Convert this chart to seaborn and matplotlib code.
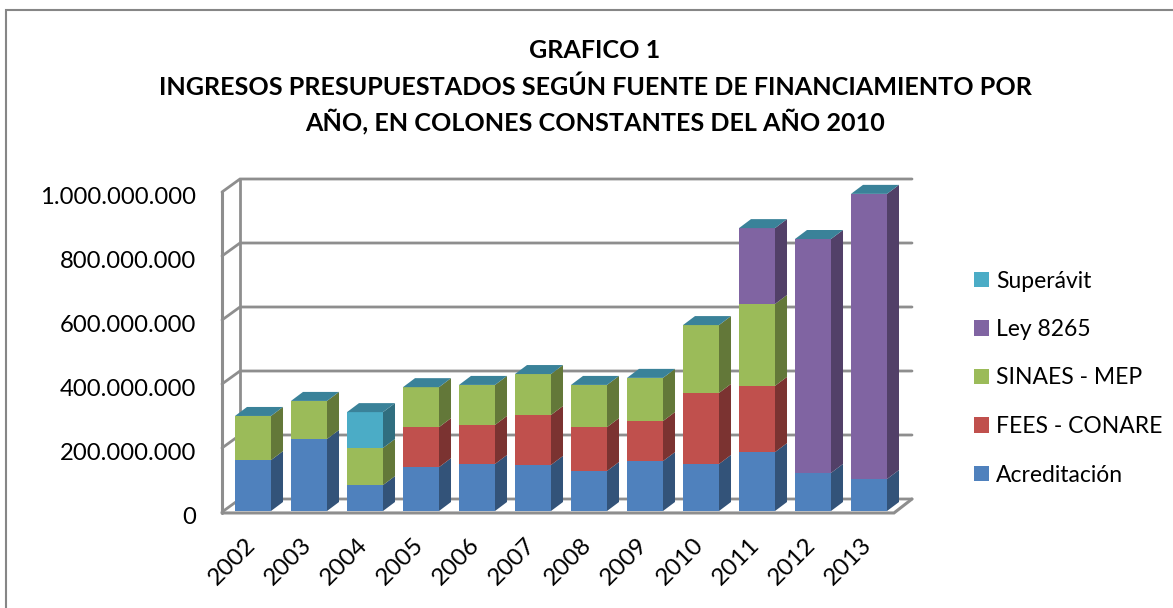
import matplotlib
matplotlib.use("Agg")
import matplotlib.pyplot as plt
from matplotlib.patches import Polygon
from matplotlib.lines import Line2D
from matplotlib.colors import to_rgb
from matplotlib.transforms import ScaledTranslation
import seaborn as sns

# Data (colones)
YEARS = ["2002", "2003", "2004", "2005", "2006", "2007", "2008", "2009", "2010", "2011", "2012", "2013"]
ACREDITACION = [159e6, 225e6, 81e6, 137e6, 147e6, 144e6, 125e6, 156e6, 147e6, 184e6, 119e6, 100e6]
FEES_CONARE = [0, 0, 0, 125e6, 122e6, 156e6, 137e6, 125e6, 222e6, 207e6, 0, 0]
SINAES_MEP = [138e6, 119e6, 116e6, 125e6, 125e6, 128e6, 132e6, 135e6, 212e6, 256e6, 0, 0]
LEY_8265 = [0, 0, 0, 0, 0, 0, 0, 0, 0, 237e6, 731e6, 891e6]
SUPERAVIT = [0, 0, 112e6, 0, 0, 0, 0, 0, 0, 0, 0, 0]
SERIES_NAMES = ["Acreditación", "FEES - CONARE", "SINAES - MEP", "Ley 8265", "Superávit"]
SERIES_COLORS = ["#4f81bd", "#c0504d", "#9bbb59", "#8064a2", "#4bacc6"]
Y_TICKS = [0, 200e6, 400e6, 600e6, 800e6, 1000e6]
Y_LABELS = ["0", "200.000.000", "400.000.000", "600.000.000", "800.000.000", "1.000.000.000"]
TITLE_LINES = ["GRAFICO 1",
               "INGRESOS PRESUPUESTADOS SEGÚN FUENTE DE FINANCIAMIENTO POR",
               "AÑO, EN COLONES CONSTANTES DEL AÑO 2010"]
TITLE_BASELINES = [58, 95, 130]

W, H = 1173, 608
GRID = "#8e8e8e"
TOP_COLOR = "#3a8299"

sns.set_theme(style="white")
plt.rcParams["font.family"] = ["Lato", "DejaVu Sans"]

fig = plt.figure(figsize=(W / 100, H / 100), dpi=100)
# front plane of the fake 3D box, in pixels
ax = fig.add_axes([222 / W, 1 - 512 / H, 672 / W, 320 / H])

series = [ACREDITACION, FEES_CONARE, SINAES_MEP, LEY_8265, SUPERAVIT]
bottoms = [0] * len(YEARS)
for name, values, color in zip(SERIES_NAMES, series, SERIES_COLORS):
    sns.barplot(x=YEARS, y=values, bottom=bottoms, color=color, width=0.643,
                saturation=1, label=name, ax=ax, zorder=3, linewidth=0)
    bottoms = [b + v for b, v in zip(bottoms, values)]

ax.set_xlim(-0.5, 11.5)
ax.set_ylim(0, 1e9)
sns.despine(ax=ax, left=True, bottom=True)

# pixel to data helpers
PX = 1 / 56
PY = 1e9 / 320


def shift(x, y, dx, dy):
    return x + dx * PX, y + dy * PY


# walls and gridlines
for tick in Y_TICKS:
    x0, y0 = shift(-0.5, tick, 18, 13)
    x1, y1 = shift(11.5, tick, 18, 13)
    ax.plot([-0.5, x0, x1], [tick, y0, y1], color=GRID, lw=2, clip_on=False, zorder=1,
            solid_joinstyle="miter")
bx, by = shift(-0.5, 0, 18, 13)
tx, ty = shift(-0.5, 1e9, 18, 13)
ax.plot([bx, tx], [by, ty], color=GRID, lw=2, clip_on=False, zorder=1)
ax.plot([-0.5, -0.5], [-3e6, 1e9], color=GRID, lw=2.2, clip_on=False, zorder=2)
rx, ry = shift(11.5, 0, 18, 13)
ax.plot([-0.5, 11.5, rx], [-3e6, -3e6, ry], color=GRID, lw=2.2, clip_on=False, zorder=2,
        solid_joinstyle="miter")

# side and top faces are built from the bars seaborn drew
bars_per_series = len(YEARS)
for s, color in enumerate(SERIES_COLORS):
    dark = tuple(c * 0.64 for c in to_rgb(color))
    for patch in ax.patches[s * bars_per_series:(s + 1) * bars_per_series]:
        x, y = patch.get_x(), patch.get_y()
        w, h = patch.get_width(), patch.get_height()
        # bars sit a little behind the front plane
        x, y = shift(x, y, 3, 1)
        patch.set_x(x)
        patch.set_y(y)
        if h > 0:
            sx, sy = shift(x + w, y, 12, 9)
            ax.add_patch(Polygon([(x + w, y), (x + w, y + h), (sx, sy + h), (sx, sy)],
                                 facecolor=dark, edgecolor="none", clip_on=False, zorder=3))
        # the empty top series is what paints the teal cap in the original
        if s == len(SERIES_COLORS) - 1:
            top = y + h
            a = shift(x, top, 12, 9)
            b = shift(x + w, top, 12, 9)
            ax.add_patch(Polygon([(x, top), (x + w, top), b, a],
                                 facecolor=TOP_COLOR, edgecolor="none", clip_on=False, zorder=3))

ax.set_yticks(Y_TICKS, Y_LABELS)
ax.set_xticks(range(len(YEARS)), YEARS)
ax.tick_params(axis="y", length=0, pad=18.7, labelsize=17.2, labelcolor="black")
ax.tick_params(axis="x", length=0, pad=16, labelsize=17.5, labelcolor="black")
nudge = ScaledTranslation(-5 / 100, 0, fig.dpi_scale_trans)
for lab in ax.get_xticklabels():
    lab.set_rotation(45)
    lab.set_ha("right")
    lab.set_rotation_mode("anchor")
    lab.set_transform(lab.get_transform() + nudge)
down = ScaledTranslation(0, -3 / 100, fig.dpi_scale_trans)
for lab in ax.get_yticklabels():
    lab.set_transform(lab.get_transform() + down)

handles, labels = ax.get_legend_handles_labels()
leg = ax.legend(handles[::-1], labels[::-1], loc="center left", bbox_to_anchor=(974 / W, 1 - 378 / H),
                bbox_transform=fig.transFigure, frameon=False, fontsize=16.5, handlelength=0.67,
                handleheight=0.67, handletextpad=0.3, labelspacing=1.2, borderpad=0, borderaxespad=0,
                labelcolor="black")

for line, base in zip(TITLE_LINES, TITLE_BASELINES):
    fig.text(595 / W, 1 - base / H, line, ha="center", va="baseline", fontsize=18.1,
             fontweight="bold", color="black")

# chart frame: left and top edges only, the right side runs off the picture
fig.add_artist(Line2D([6 / W, 6 / W, 1], [0, 1 - 10 / H, 1 - 10 / H], transform=fig.transFigure,
                      color="#868686", lw=1.5, solid_joinstyle="miter"))

fig.savefig("out.png", dpi=100)
